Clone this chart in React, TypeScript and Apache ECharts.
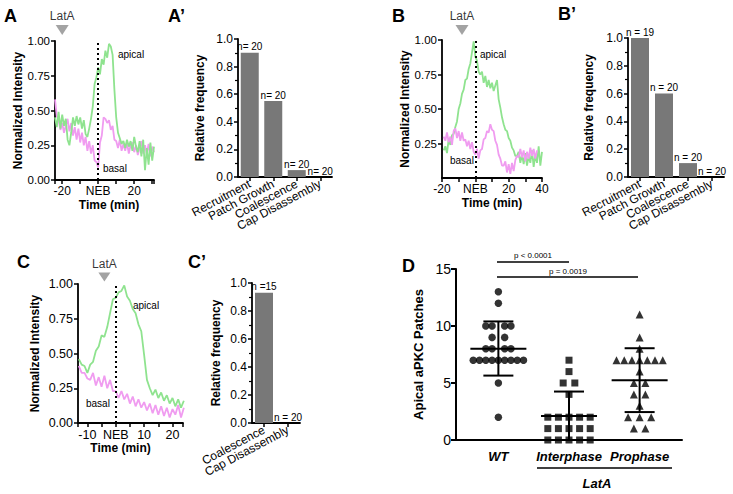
import React, { useEffect, useRef } from 'react';
import * as echarts from 'echarts';

const FONT = 'Liberation Sans, Arial, sans-serif';
const GREEN = '#8fe38f';
const PINK = '#f09cf0';
const BAR = '#787878';
const TRI = '#8c8c8c';

// ---------- Panel A (time traces, 1-min samples) ----------
const timeStartA = -24;
const apicalA = [
  0.45, 0.38, 0.49, 0.37, 0.47, 0.39, 0.44, 0.29, 0.25, 0.34,
  0.45, 0.39, 0.46, 0.40, 0.45, 0.37, 0.43, 0.33, 0.31, 0.37,
  0.44, 0.53, 0.69, 0.74, 0.81, 0.76, 0.87, 0.83, 0.93, 0.88,
  0.98, 0.96, 0.90, 0.65, 0.45, 0.34, 0.30, 0.26, 0.28, 0.23,
  0.29, 0.24, 0.28, 0.21, 0.31, 0.24, 0.20, 0.28, 0.17, 0.29,
  0.07, 0.23, 0.11, 0.27, 0.14, 0.24,
];
const basalA = [
  0.58, 0.46, 0.43, 0.36, 0.41, 0.34, 0.39, 0.44, 0.35, 0.41,
  0.32, 0.38, 0.29, 0.37, 0.27, 0.34, 0.25, 0.31, 0.21, 0.28,
  0.19, 0.25, 0.14, 0.13, 0.09, 0.27, 0.32, 0.45, 0.44, 0.41,
  0.43, 0.36, 0.39, 0.29, 0.28, 0.23, 0.29, 0.21, 0.26, 0.21,
  0.27, 0.19, 0.25, 0.27, 0.20, 0.25, 0.18, 0.23, 0.28, 0.19,
  0.25, 0.19, 0.26, 0.17, 0.24, 0.20,
];
const latTimeA = -20;

// ---------- Panel B ----------
const timeStartB = -19;
const apicalB = [
  0.20, 0.23, 0.18, 0.28, 0.24, 0.31, 0.32, 0.37, 0.41, 0.50,
  0.54, 0.61, 0.64, 0.71, 0.72, 0.79, 0.83, 0.91, 0.99, 0.88,
  0.85, 0.77, 0.75, 0.77, 0.69, 0.74, 0.66, 0.71, 0.65, 0.69,
  0.63, 0.67, 0.71, 0.57, 0.51, 0.44, 0.39, 0.35, 0.34, 0.29,
  0.27, 0.22, 0.20, 0.16, 0.16, 0.19, 0.11, 0.17, 0.10, 0.18,
  0.09, 0.16, 0.11, 0.20, 0.08, 0.17, 0.11, 0.23, 0.09, 0.19,
];
const basalB = [
  0.30, 0.27, 0.33, 0.26, 0.30, 0.24, 0.34, 0.36, 0.29, 0.34,
  0.27, 0.33, 0.27, 0.28, 0.23, 0.27, 0.21, 0.26, 0.19, 0.17,
  0.21, 0.14, 0.20, 0.21, 0.28, 0.29, 0.34, 0.33, 0.39, 0.35,
  0.34, 0.27, 0.24, 0.17, 0.14, 0.09, 0.09, 0.12, 0.04, 0.10,
  0.03, 0.11, 0.05, 0.13, 0.16, 0.15, 0.21, 0.15, 0.20, 0.12,
  0.19, 0.14, 0.22, 0.16, 0.21, 0.14, 0.20,
];
const latTimeB = -8;

// ---------- Panel C ----------
const timeStartC = -13;
const apicalC = [
  0.46, 0.42, 0.41, 0.36, 0.42, 0.44, 0.52, 0.55, 0.63, 0.62,
  0.69, 0.79, 0.89, 0.90, 0.94, 0.95, 0.99, 0.91, 0.88, 0.82,
  0.79, 0.71, 0.66, 0.49, 0.31, 0.25, 0.20, 0.24, 0.18, 0.22,
  0.16, 0.20, 0.14, 0.18, 0.12, 0.17, 0.11, 0.16,
];
const basalC = [
  0.41, 0.36, 0.36, 0.32, 0.31, 0.36, 0.27, 0.33, 0.26, 0.34,
  0.25, 0.31, 0.23, 0.23, 0.18, 0.23, 0.17, 0.21, 0.14, 0.19,
  0.12, 0.17, 0.11, 0.15, 0.09, 0.14, 0.07, 0.13, 0.06, 0.12,
  0.05, 0.11, 0.04, 0.10, 0.06, 0.13, 0.04, 0.11,
];
const latTimeC = -4;

// ---------- Bar panels ----------
const stepsFull = ['Recruitment', 'Patch Growth', 'Coalescence', 'Cap Disassembly'];
const freqA = [0.9, 0.55, 0.05, 0];
const nLabelsA = ['n= 20', 'n= 20', 'n= 20', 'n= 20'];
const freqB = [1.0, 0.6, 0.1, 0];
const nLabelsB = ['n = 19', 'n = 20', 'n = 20', 'n = 20'];
const stepsC = ['Coalescence', 'Cap Disassembly'];
const freqC = [0.93, 0];
const nLabelsC = ['n =15', 'n = 20'];

// ---------- Panel D ----------
const groupsD = ['WT', 'Interphase', 'Prophase'];
// [slot, value] ; slot = horizontal position of the dot within its row
const wtPoints = [
  [0, 13], [0, 12],
  [-2, 10], [-1, 10], [1, 10], [2, 10],
  [-1, 9], [1, 9],
  [-2, 8], [-1, 8], [1, 8], [2, 8],
  [-4, 7], [-3, 7], [-2, 7], [-1, 7], [0, 7], [1, 7], [2, 7], [3, 7], [4, 7],
  [0, 5], [0, 2],
];
const interPoints = [
  [0, 7], [0, 6], [-0.55, 5], [0.55, 5], [0, 4],
  [-2, 2], [-1, 2], [0, 2], [1, 2], [2, 2],
  [-2, 1], [-1, 1], [0, 1], [1, 1], [2, 1],
  [-2, 0], [-1, 0], [0, 0], [1, 0], [2, 0],
];
const prophPoints = [
  [0, 11], [0, 9], [0, 8],
  [-3, 7], [-2, 7], [-1, 7], [0, 7], [1, 7], [2, 7], [3, 7],
  [0, 6], [-0.75, 5], [0.75, 5], [-0.75, 4], [0.75, 4], [0, 3],
  [-1.5, 2], [0, 2], [1.5, 2], [-0.75, 1], [0.75, 1],
];
const meanD = [8.0, 2.1, 5.25];
const sdLowD = [5.65, 0, 2.45];
const sdHighD = [10.4, 4.25, 8.05];

const SLOT_W = [0.089, 0.15, 0.109];

const tStyle = (size: number, weight: string = 'normal') => ({
  color: '#000', fontFamily: FONT, fontSize: size, fontWeight: weight,
});

const yLine = { show: true, onZero: false, lineStyle: { color: '#000', width: 1.8 } };
const tick = { show: true, length: 4, lineStyle: { color: '#000', width: 1.5 } };

function timeAxis(gi: number, min: number, max: number, step: number, labelEvery: number, fontSize: number, extra: any = {}) {
  return {
    gridIndex: gi, type: 'value', min, max,
    minInterval: step, maxInterval: step,
    axisLine: yLine, axisTick: tick, splitLine: { show: false },
    axisLabel: {
      ...tStyle(fontSize), margin: 5,
      formatter: (v: number) => (v === 0 ? 'NEB' : Math.abs(v % labelEvery) < 1e-6 ? String(v) : ''),
    },
    name: 'Time (min)', nameLocation: 'middle', nameGap: 19,
    nameTextStyle: { ...tStyle(12, 'bold') },
    ...extra,
  };
}

function intensityAxis(gi: number, gap: number, fontSize: number, showMin: boolean) {
  return {
    gridIndex: gi, type: 'value', min: 0, max: 1, interval: 0.25,
    axisLine: yLine, axisTick: tick, splitLine: { show: false },
    axisLabel: { ...tStyle(fontSize), margin: 5, showMinLabel: showMin, formatter: (v: number) => v.toFixed(2) },
    name: 'Normalized Intensity', nameLocation: 'middle', nameGap: gap,
    nameTextStyle: { ...tStyle(12, 'bold') },
  };
}

function freqYAxis(gi: number, gap: number) {
  return {
    gridIndex: gi, type: 'value', min: 0, max: 1, interval: 0.2,
    axisLine: yLine, axisTick: tick, splitLine: { show: false },
    minorTick: { show: true, splitNumber: 2, length: 3, lineStyle: { color: '#000', width: 1.2 } },
    axisLabel: { ...tStyle(12), margin: 5, formatter: (v: number) => v.toFixed(1) },
    name: 'Relative frequency', nameLocation: 'middle', nameGap: gap,
    nameTextStyle: { ...tStyle(12, 'bold') },
  };
}

function catAxis(gi: number, cats: string[]) {
  return {
    gridIndex: gi, type: 'category', data: cats,
    axisLine: yLine, axisTick: { ...tick, alignWithLabel: true },
    axisLabel: { ...tStyle(12), rotate: 28, interval: 0, margin: 6 },
  };
}

function traceSeries(gi: number, start: number, values: number[], color: string, extra: any = {}) {
  return {
    type: 'line', xAxisIndex: gi, yAxisIndex: gi,
    data: values.map((v, i) => [start + i, v]),
    showSymbol: false, symbol: 'none',
    lineStyle: { color, width: 1.8 }, itemStyle: { color },
    silent: true, ...extra,
  };
}

const nebLine = {
  silent: true, symbol: ['none', 'none'], label: { show: false },
  lineStyle: { color: '#000', width: 2, type: [2, 3] },
  data: [{ xAxis: 0 }],
};

function latSeries(gi: number, t: number, y: number, size: number[]) {
  return {
    type: 'scatter', xAxisIndex: gi, yAxisIndex: gi, clip: false, silent: true,
    data: [[t, y]], symbol: 'triangle', symbolRotate: 180, symbolSize: size,
    itemStyle: { color: TRI },
    label: { show: true, position: 'top', distance: 3, formatter: 'LatA', ...tStyle(12) },
  };
}

function barSeries(gi: number, values: number[], labels: string[]) {
  return {
    type: 'bar', xAxisIndex: gi, yAxisIndex: gi, data: values, barWidth: 18,
    itemStyle: { color: BAR }, silent: true,
    label: { show: true, position: 'top', distance: 1, ...tStyle(10), formatter: (p: any) => labels[p.dataIndex] },
  };
}

function pointsSeries(points: number[][], gi: number, symbol: string, size: number) {
  return {
    type: 'scatter', xAxisIndex: 6, yAxisIndex: 6, symbol, symbolSize: size, silent: true,
    itemStyle: { color: '#000' },
    data: points.map(([s, v]) => [gi + 1 + s * SLOT_W[gi], v]),
  };
}

const txt = (x: number, y: number, text: string, font: string, align: string = 'left') => ({
  type: 'text', x, y, silent: true,
  style: { text, font, fill: '#000', align, verticalAlign: 'middle' },
});
const hline = (x1: number, x2: number, y: number, w: number = 1.5) => ({
  type: 'line', silent: true, shape: { x1, y1: y, x2, y2: y }, style: { stroke: '#000', lineWidth: w },
});

export default function App() {
  const ref = useRef<HTMLDivElement>(null);
  useEffect(() => {
    if (!ref.current) return;
    const chart = echarts.init(ref.current, null, { renderer: 'svg' });
    const option: any = {
      animation: false,
      backgroundColor: '#fff',
      textStyle: { fontFamily: FONT },
      grid: [
        { left: 55, top: 41, width: 99, height: 139 },   // A
        { left: 238, top: 39, width: 94, height: 138 },  // A'
        { left: 442, top: 40, width: 100, height: 138 }, // B
        { left: 628, top: 38, width: 96, height: 139 },  // B'
        { left: 78, top: 284, width: 105, height: 139 }, // C
        { left: 252, top: 283, width: 48, height: 140 }, // C'
        { left: 456, top: 269, width: 226, height: 171 },// D
      ],
      xAxis: [
        timeAxis(0, -24, 31, 10, 20, 12, { nameTextStyle: { ...tStyle(12, 'bold'), padding: [0, 0, 0, 9] } }),
        catAxis(1, stepsFull),
        { ...timeAxis(2, -20, 40, 10, 20, 12), interval: 10, minInterval: undefined, maxInterval: undefined },
        catAxis(3, stepsFull),
        timeAxis(4, -13.3, 23.7, 5, 10, 12.5, { nameTextStyle: { ...tStyle(12, 'bold'), padding: [0, 20, 0, 0] } }),
        catAxis(5, stepsC),
        {
          gridIndex: 6, type: 'value', min: 0.4, max: 3.6, minInterval: 1, maxInterval: 1,
          axisLine: { show: true, onZero: false, lineStyle: { color: '#000', width: 2 } },
          axisTick: { show: false }, splitLine: { show: false },
          axisLabel: {
            ...tStyle(13, 'bold'), fontStyle: 'italic', margin: 10,
            formatter: (v: number) => (Number.isInteger(v) && v >= 1 && v <= 3 ? groupsD[v - 1] : ''),
          },
        },
      ],
      yAxis: [
        intensityAxis(0, 31, 11.5, true),
        freqYAxis(1, 32),
        intensityAxis(2, 30, 11.5, false),
        freqYAxis(3, 33),
        intensityAxis(4, 37, 12.5, true),
        freqYAxis(5, 30),
        {
          gridIndex: 6, type: 'value', min: 0, max: 15, interval: 5,
          axisLine: { show: true, onZero: false, lineStyle: { color: '#000', width: 2 } },
          axisTick: { show: true, length: 5, lineStyle: { color: '#000', width: 2 } },
          splitLine: { show: false },
          axisLabel: { ...tStyle(14), margin: 5 },
          name: 'Apical aPKC Patches', nameLocation: 'middle', nameGap: 31,
          nameTextStyle: { ...tStyle(13, 'bold') },
        },
      ],
      series: [
        traceSeries(0, timeStartA, basalA, PINK),
        traceSeries(0, timeStartA, apicalA, GREEN, { markLine: nebLine }),
        latSeries(0, latTimeA, 1.08, [13, 10]),
        barSeries(1, freqA, nLabelsA),
        traceSeries(2, timeStartB, apicalB, GREEN, { markLine: nebLine }),
        traceSeries(2, timeStartB, basalB, PINK),
        latSeries(2, latTimeB, 1.072, [13, 10]),
        barSeries(3, freqB, nLabelsB),
        traceSeries(4, timeStartC, basalC, PINK),
        traceSeries(4, timeStartC, apicalC, GREEN, { markLine: nebLine }),
        latSeries(4, latTimeC, 1.05, [12, 9]),
        barSeries(5, freqC, nLabelsC),
        pointsSeries(wtPoints, 0, 'circle', 7.5),
        pointsSeries(interPoints, 1, 'rect', 7),
        pointsSeries(prophPoints, 2, 'triangle', 8),
        {
          type: 'custom', xAxisIndex: 6, yAxisIndex: 6, silent: true, z: 5, clip: false,
          data: meanD.map((m, i) => [i + 1, m, sdLowD[i], sdHighD[i]]),
          encode: { x: 0, y: 1 },
          renderItem: (_p: any, api: any) => {
            const c = api.coord([api.value(0), api.value(1)]);
            const lo = api.coord([api.value(0), api.value(2)]);
            const hi = api.coord([api.value(0), api.value(3)]);
            const st = { stroke: '#000', lineWidth: 2 };
            return {
              type: 'group', children: [
                { type: 'line', shape: { x1: c[0] - 28, y1: c[1], x2: c[0] + 28, y2: c[1] }, style: st },
                { type: 'line', shape: { x1: hi[0], y1: hi[1], x2: lo[0], y2: lo[1] }, style: st },
                { type: 'line', shape: { x1: hi[0] - 15, y1: hi[1], x2: hi[0] + 15, y2: hi[1] }, style: st },
                { type: 'line', shape: { x1: lo[0] - 15, y1: lo[1], x2: lo[0] + 15, y2: lo[1] }, style: st },
              ],
            };
          },
        },
      ],
      graphic: [
        txt(4, 16, 'A', `bold 18px ${FONT}`),
        txt(168, 16, 'A’', `bold 18px ${FONT}`),
        txt(392, 16, 'B', `bold 18px ${FONT}`),
        txt(558, 14, 'B’', `bold 18px ${FONT}`),
        txt(17, 262, 'C', `bold 18px ${FONT}`),
        txt(188, 262, 'C’', `bold 18px ${FONT}`),
        txt(402, 266, 'D', `bold 18px ${FONT}`),
        txt(118, 54, 'apical', `10px ${FONT}`),
        txt(103, 168, 'basal', `10px ${FONT}`),
        txt(480, 54, 'apical', `10px ${FONT}`),
        txt(450, 160, 'basal', `10px ${FONT}`),
        txt(133, 305, 'apical', `10px ${FONT}`),
        txt(86, 403, 'basal', `10px ${FONT}`),
        hline(497, 569, 262),
        txt(533, 255, 'p < 0.0001', `8px ${FONT}`, 'center'),
        hline(497, 638, 277),
        txt(568, 271, 'p = 0.0019', `8px ${FONT}`, 'center'),
        hline(537, 672, 468),
        txt(597, 483, 'LatA', `italic bold 13px ${FONT}`, 'center'),
      ],
    };
    chart.setOption(option);
    return () => chart.dispose();
  }, []);
  return <div ref={ref} style={{ position: 'fixed', left: 0, top: 0, width: 733, height: 494, background: '#fff' }} />;
}
